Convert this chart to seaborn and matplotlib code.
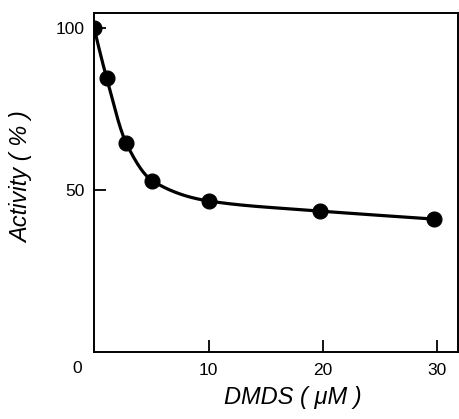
import numpy as np
import pandas as pd
import seaborn as sns
import matplotlib.pyplot as plt

sns.set_theme(style="white")
plt.rcParams["font.family"] = ["Liberation Sans", "DejaVu Sans"]

# values
dmds_um = [0.0, 1.1, 2.8, 5.1, 10.0, 19.7, 29.7]
activity_pct = [100.0, 84.5, 64.5, 52.8, 46.6, 43.5, 41.0]
x_ticks = [10, 20, 30]
y_ticks = [50, 100]


def pchip(x, y, xs):
    # monotone cubic hermite interpolation (Fritsch-Carlson)
    x = np.asarray(x, float)
    y = np.asarray(y, float)
    h = np.diff(x)
    d = np.diff(y) / h
    m = np.zeros_like(y)
    for k in range(1, len(x) - 1):
        if d[k - 1] * d[k] > 0:
            w1 = 2 * h[k] + h[k - 1]
            w2 = h[k] + 2 * h[k - 1]
            m[k] = (w1 + w2) / (w1 / d[k - 1] + w2 / d[k])
    m[0] = ((2 * h[0] + h[1]) * d[0] - h[0] * d[1]) / (h[0] + h[1])
    if np.sign(m[0]) != np.sign(d[0]):
        m[0] = 0
    m[-1] = d[-1]
    idx = np.clip(np.searchsorted(x, xs) - 1, 0, len(h) - 1)
    t = (xs - x[idx]) / h[idx]
    h00 = 2 * t**3 - 3 * t**2 + 1
    h10 = t**3 - 2 * t**2 + t
    h01 = -2 * t**3 + 3 * t**2
    h11 = t**3 - t**2
    return (h00 * y[idx] + h10 * h[idx] * m[idx]
            + h01 * y[idx + 1] + h11 * h[idx] * m[idx + 1])


df = pd.DataFrame({"dmds": dmds_um, "activity": activity_pct})
xs = np.linspace(df["dmds"].min(), df["dmds"].max(), 400)
curve = pd.DataFrame({"dmds": xs, "activity": pchip(df["dmds"], df["activity"], xs)})

fig = plt.figure(figsize=(4.59, 4.19), dpi=100)
ax = fig.add_axes([0.205, 0.160, 0.793, 0.809])

sns.lineplot(data=curve, x="dmds", y="activity", ax=ax, color="black", lw=2.3)
sns.scatterplot(data=df, x="dmds", y="activity", ax=ax, color="black", s=115,
                edgecolor="black", zorder=3)

ax.set_xlim(0, 31.8)
ax.set_ylim(0, 104.6)
ax.set_xticks(x_ticks)
ax.set_yticks(y_ticks)
ax.tick_params(bottom=True, left=True, direction="in", length=8.5, width=1.3,
               labelsize=12.5, colors="black", labelcolor="black")
ax.tick_params(axis="x", pad=8)
ax.tick_params(axis="y", pad=7)
for s in ax.spines.values():
    s.set_color("black")
    s.set_linewidth(1.4)
ax.set_xlabel("")
ax.set_ylabel("")

fig.text(77 / 459, 1 - 368 / 419, "0", ha="center", va="center",
         fontsize=12.5, color="black")
fig.text(293 / 459, 1 - 397 / 419, "DMDS ( \u03bcM )", ha="center", va="center",
         fontsize=17, style="italic", color="black")
fig.text(22 / 459, 1 - 177 / 419, "Activity ( % )", ha="center", va="center",
         fontsize=17, style="italic", rotation=90, color="black")

fig.savefig("out.png", dpi=100)
